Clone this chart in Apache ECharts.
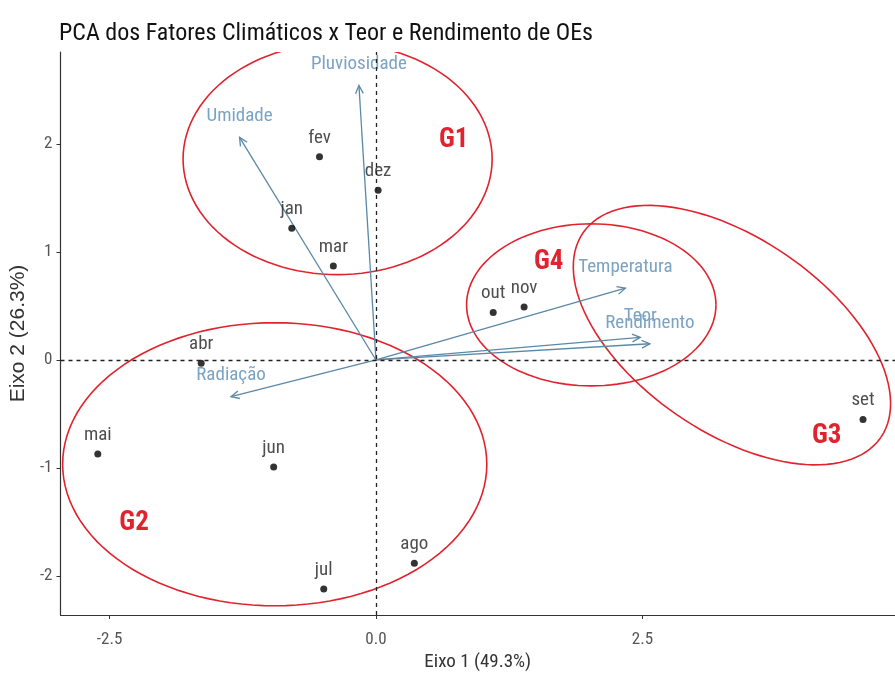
<!DOCTYPE html>
<html><head><meta charset="utf-8">
<script src="https://cdn.jsdelivr.net/npm/echarts@6/dist/echarts.min.js"></script>
<style>html,body{margin:0;padding:0;background:#fff}#c{width:895px;height:681px}</style>
</head><body><div id="c"></div>
<script>
// Individuals (months) coordinates on Eixo 1 / Eixo 2
const months = ['jan','fev','mar','abr','mai','jun','jul','ago','set','out','nov','dez'];
const dim1 = [-0.79,-0.53,-0.40,-1.64,-2.61,-0.96,-0.49,0.36,4.57,1.10,1.39,0.02];
const dim2 = [1.22,1.88,0.87,-0.03,-0.87,-0.99,-2.12,-1.88,-0.55,0.44,0.49,1.57];

// Variables (arrows)
const varNames = ['Pluviosidade','Umidade','Temperatura','Teor','Rendimento','Radiação'];
const varX = [-0.16,-1.28,2.34,2.48,2.57,-1.36];
const varY = [2.54,2.06,0.665,0.21,0.15,-0.34];

// Group ellipses
const groupNames = ['G1','G2','G3','G4'];
const groupCx = [-0.36,-0.95,3.34,2.02];
const groupCy = [1.86,-0.965,0.23,0.51];
const groupRx = [1.45,1.99,1.695,1.17];
const groupRy = [1.07,1.31,0.896,0.75];
const groupAngle = [0,0,34.5,0];
const groupLabelX = [0.73,-2.27,4.23,1.62];
const groupLabelY = [2.03,-1.515,-0.71,0.905];

const xTicks = [-2.5,0,2.5];
const yTicks = [-2,-1,0,1,2];

const FONT = "'Liberation Sans Narrow','Roboto Condensed','Arial Narrow','Liberation Sans',sans-serif";
const FONT_REG = "'Liberation Sans',Arial,sans-serif";
const ARROW_COLOR = '#5b88a6';
const VAR_TEXT = '#7aa3c4';
const RED = '#e0232e';

const chart = echarts.init(document.getElementById('c'), null, {renderer:'canvas'});

const ellipseData = groupNames.map((g,i)=>[groupCx[i],groupCy[i],groupRx[i],groupRy[i],groupAngle[i],groupLabelX[i],groupLabelY[i]]);
const varData = varNames.map((n,i)=>[varX[i],varY[i],n]);
const pointData = months.map((m,i)=>[dim1[i],dim2[i],m]);

const option = {
  animation:false,
  backgroundColor:'#fff',
  title:{
    text:'PCA dos Fatores Climáticos x Teor e Rendimento de OEs',
    left:54, top:17,
    textStyle:{fontFamily:FONT,fontSize:24,fontWeight:'normal',color:'#111'}
  },
  grid:{left:59,right:0,top:52,bottom:66,containLabel:false},
  xAxis:{
    type:'value', min:-2.96, max:4.87,
    name:'Eixo 1 (49.3%)', nameLocation:'middle', nameGap:38,
    nameTextStyle:{fontFamily:FONT,fontSize:19,color:'#333'},
    axisLine:{onZero:false,lineStyle:{color:'#333',width:1.2}},
    axisTick:{show:true,length:4,customValues:xTicks,lineStyle:{color:'#333'}},
    axisLabel:{customValues:xTicks,fontFamily:FONT,fontSize:17,color:'#555',margin:16,
      formatter:v=>v.toFixed(1)},
    splitLine:{show:false}
  },
  yAxis:{
    type:'value', min:-2.36, max:2.85,
    name:'Eixo 2 (26.3%)', nameLocation:'middle', nameGap:23, nameRotate:90,
    nameTextStyle:{fontFamily:FONT_REG,fontSize:21,color:'#333'},
    axisLine:{onZero:false,lineStyle:{color:'#333',width:1.2}},
    axisTick:{show:true,length:4,customValues:yTicks,lineStyle:{color:'#333'}},
    axisLabel:{customValues:yTicks,fontFamily:FONT,fontSize:17,color:'#555',margin:8,
      formatter:v=>String(v)},
    splitLine:{show:false}
  },
  series:[
    {
      type:'custom', name:'ellipses', coordinateSystem:'cartesian2d', silent:true, z:2,
      clip:true,
      data:ellipseData,
      renderItem:function(params, api){
        const c = api.coord([api.value(0), api.value(1)]);
        const s = api.size([api.value(2), api.value(3)]);
        const phi = api.value(4)*Math.PI/180;
        const pts = [];
        for(let k=0;k<=120;k++){
          const t = k/120*2*Math.PI;
          const ex = s[0]*Math.cos(t), ey = s[1]*Math.sin(t);
          pts.push([c[0]+ex*Math.cos(phi)-ey*Math.sin(phi), c[1]+ex*Math.sin(phi)+ey*Math.cos(phi)]);
        }
        const lp = api.coord([api.value(5), api.value(6)]);
        return {type:'group', children:[
          {type:'polyline', shape:{points:pts}, style:{stroke:RED,lineWidth:1.6,fill:null}},
          {type:'text', x:lp[0], y:lp[1], style:{text:groupNames[params.dataIndex],
            fontFamily:FONT,fontSize:27,fontWeight:'bold',fill:RED,align:'center',verticalAlign:'middle'}}
        ]};
      }
    },
    {
      type:'custom', name:'variables', coordinateSystem:'cartesian2d', silent:true, z:3,
      clip:true,
      data:varData,
      renderItem:function(params, api){
        const o = api.coord([0,0]);
        const p = api.coord([api.value(0), api.value(1)]);
        const ang = Math.atan2(p[1]-o[1], p[0]-o[0]);
        const L = 9, w = Math.PI/7;
        const a1 = [p[0]-L*Math.cos(ang-w), p[1]-L*Math.sin(ang-w)];
        const a2 = [p[0]-L*Math.cos(ang+w), p[1]-L*Math.sin(ang+w)];
        return {type:'group', children:[
          {type:'line', shape:{x1:o[0],y1:o[1],x2:p[0],y2:p[1]}, style:{stroke:ARROW_COLOR,lineWidth:1.3}},
          {type:'polyline', shape:{points:[a1,p,a2]}, style:{stroke:ARROW_COLOR,lineWidth:1.3,fill:null}},
          {type:'text', x:p[0], y:p[1]-21, style:{text:varNames[params.dataIndex],
            fontFamily:FONT,fontSize:19,fill:VAR_TEXT,align:'center',verticalAlign:'middle'}}
        ]};
      }
    },
    {
      type:'scatter', name:'meses', z:4,
      data:pointData,
      symbolSize:7,
      itemStyle:{color:'#000'},
      label:{show:true, position:'top', distance:6, formatter:p=>p.data[2],
        fontFamily:FONT, fontSize:19, color:'#222'},
      markLine:{
        silent:true, symbol:'none', animation:false,
        label:{show:false},
        lineStyle:{color:'#222',type:[4,4],width:1.3},
        data:[{xAxis:0},{yAxis:0}]
      }
    }
  ]
};
chart.setOption(option);
</script>
</body></html>
